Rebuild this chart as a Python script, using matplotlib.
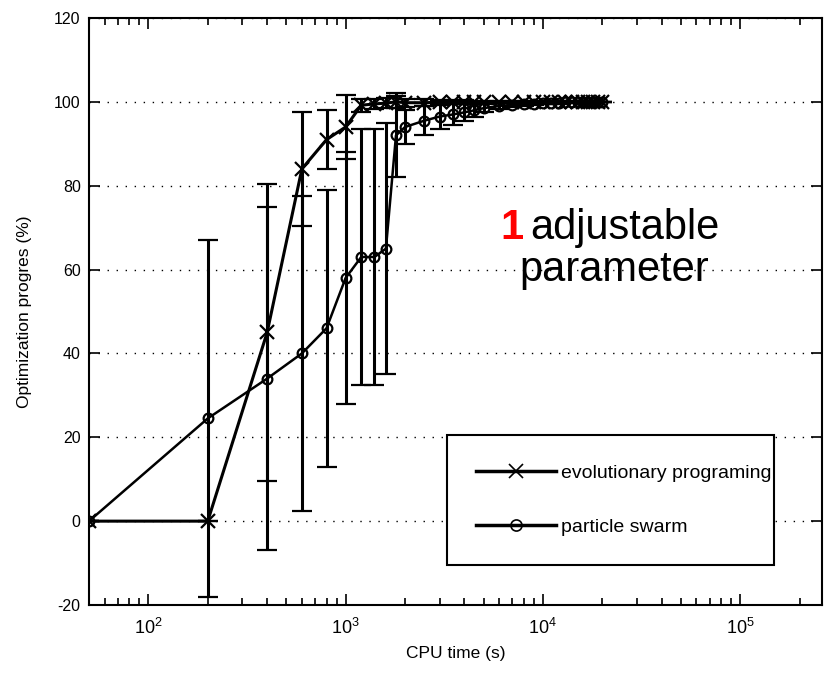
import numpy as np
import matplotlib
matplotlib.use("Agg")
import matplotlib.pyplot as plt
from matplotlib.lines import Line2D

# CPU time points (s)
t_ep = [50, 200, 400, 600, 800, 1000, 1200, 1400, 1600, 1800, 2000,
        2500, 3000, 3500, 4000, 4500, 5000, 6000, 7000, 8000, 9000, 10000,
        11000, 12000, 13000, 14000, 15000, 16000, 17000, 18000, 19000, 20000]
t_ps = t_ep

# evolutionary programing: mean and std
ep_mean = [0, 0, 45, 84, 91, 94, 99.2, 99.5, 99.7, 100, 99.8,
           99.8, 99.9, 99.9, 100, 100, 100, 100, 100, 100, 100, 100,
           100, 100, 100, 100, 100, 100, 100, 100, 100, 100]
ep_err = [0, 0, 35.5, 13.5, 7, 7.7, 1.5, 1.2, 1.2, 1.5, 1,
          0.8, 0.6, 0.5, 0.4, 0.3, 0.3, 0.2, 0.2, 0.2, 0.1, 0.1,
          0.1, 0.1, 0, 0, 0, 0, 0, 0, 0, 0]

# particle swarm: mean and std
ps_mean = [0, 24.5, 34, 40, 46, 58, 63, 63, 65, 92, 94,
           95.5, 96.5, 97, 97.5, 98, 98.5, 99, 99.3, 99.5, 99.6, 99.7,
           99.8, 99.8, 99.9, 99.9, 100, 100, 100, 100, 100, 100]
ps_err = [0, 42.5, 41, 37.5, 33, 30, 30.5, 30.5, 30, 10, 4,
          3.5, 3, 2.5, 2, 1.5, 1, 0.8, 0.6, 0.5, 0.4, 0.3,
          0.3, 0.2, 0.2, 0.1, 0.1, 0, 0, 0, 0, 0]

plt.rcParams['font.family'] = ['Liberation Sans', 'DejaVu Sans']
plt.rcParams['axes.unicode_minus'] = False

fig = plt.figure(figsize=(8.33, 6.74), dpi=100)
ax = fig.add_axes([89 / 833, (674 - 605) / 674, 733 / 833, 587 / 674])

ax.errorbar(t_ep, ep_mean, yerr=ep_err, color='black', lw=2.2, marker='x',
            ms=10, mew=1.6, capsize=7, elinewidth=2.2, capthick=2.2, zorder=3)
ax.errorbar(t_ps, ps_mean, yerr=ps_err, color='black', lw=1.8, marker='o',
            ms=7, mfc='none', mew=1.6, capsize=7, elinewidth=2.2, capthick=2.2,
            zorder=3)

ax.set_xscale('log')
ax.set_xlim(50, 2.6e5)
ax.set_ylim(-20, 120)
ax.set_yticks(np.arange(-20, 121, 20))
ax.yaxis.grid(True, linestyle=(0, (1, 5.5)), color='black', lw=1)
ax.set_axisbelow(True)

ax.tick_params(which='both', direction='in', top=True, right=True)
ax.tick_params(axis='y', labelsize=11.5, pad=6)
ax.tick_params(axis='x', labelsize=13, pad=9)
ax.tick_params(which='major', length=8, width=1.2)
ax.tick_params(which='minor', length=5, width=1.2)
for s in ax.spines.values():
    s.set_linewidth(1.5)

ax.set_xlabel('CPU time (s)', fontsize=12.5, labelpad=6)
ax.set_ylabel('Optimization progres (%)', fontsize=12.5, labelpad=16)

ax.text(0.561, 0.642, '1', transform=ax.transAxes, color='red',
        fontsize=30, fontweight='bold', ha='left', va='center')
ax.text(0.602, 0.642, 'adjustable', transform=ax.transAxes, color='black',
        fontsize=30, ha='left', va='center')
ax.text(0.716, 0.571, 'parameter', transform=ax.transAxes, color='black',
        fontsize=30, ha='center', va='center')

handles = [Line2D([], [], color='black', lw=2.5, marker='x', ms=10, mew=1.2),
           Line2D([], [], color='black', lw=2.5, marker='o', ms=8, mfc='none', mew=1.2)]
leg = ax.legend(handles, ['evolutionary programing', 'particle swarm'],
                loc='upper left', bbox_to_anchor=(0.488, 0.065, 0.447, 0.225),
                mode='expand', borderaxespad=0, fontsize=14, handlelength=4.1,
                handletextpad=0.3, labelspacing=1.9, borderpad=1.5,
                fancybox=False, framealpha=1, edgecolor='black')
leg.get_frame().set_linewidth(1.5)

fig.savefig('out.png', dpi=100)
